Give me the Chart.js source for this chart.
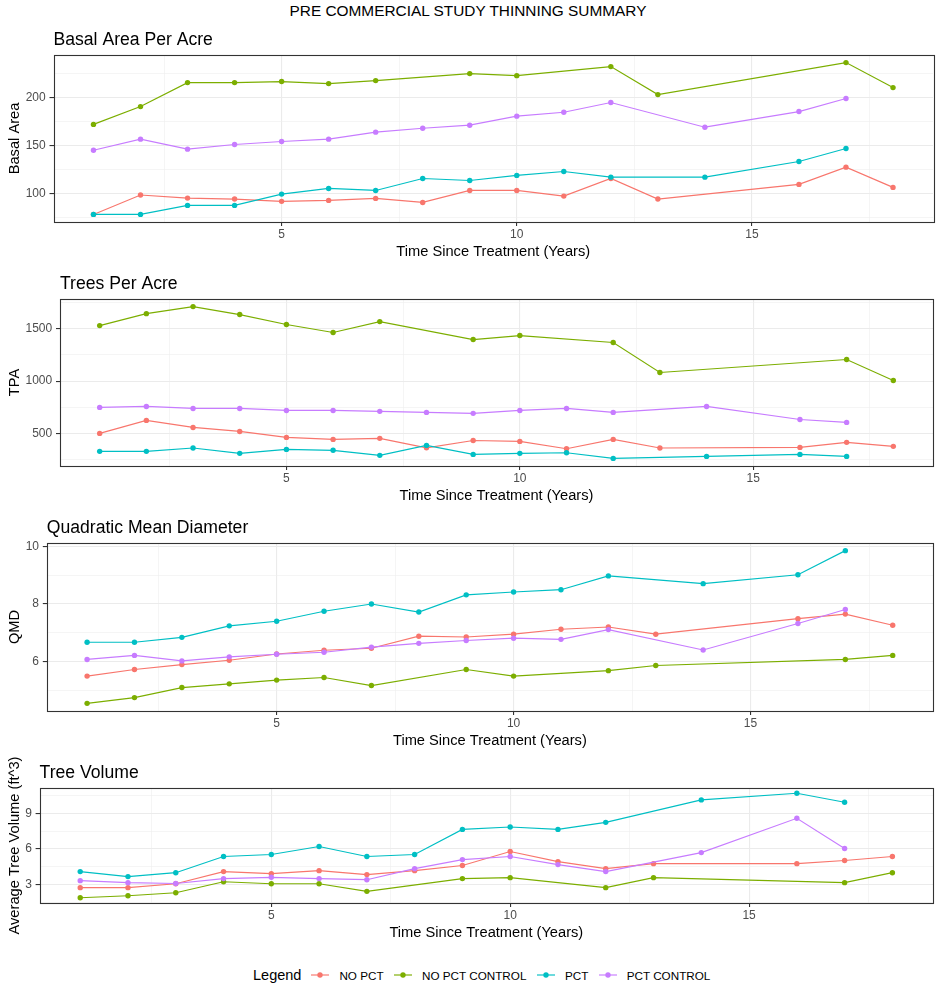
<!DOCTYPE html>
<html><head><meta charset="utf-8">
<script src="https://cdn.jsdelivr.net/npm/chart.js@4.4.1/dist/chart.umd.min.js"></script>
<style>
html,body{margin:0;padding:0;background:#fff;}
body{font-family:"Liberation Sans",Arial,sans-serif;}
#wrap{position:relative;width:936px;height:1000px;overflow:hidden;}
canvas{position:absolute;left:0;}
#mainTitle{position:absolute;left:0;width:936px;text-align:center;top:2px;font-size:15.4px;line-height:18px;color:#000;}
#legend{position:absolute;left:253px;top:966px;height:18px;display:flex;align-items:center;white-space:nowrap;}
#legend .lt{font-size:14.5px;color:#000;margin-right:10px;}
#legend .it{display:flex;align-items:center;margin-right:10.5px;font-size:11.7px;color:#000;}
#legend svg{margin-right:10px;}
</style>
</head><body>
<div id="wrap">
  <div id="mainTitle">PRE COMMERCIAL STUDY THINNING SUMMARY</div>
  <canvas id="c1"></canvas>
  <canvas id="c2"></canvas>
  <canvas id="c3"></canvas>
  <canvas id="c4"></canvas>
  <div id="legend"></div>
</div>
<script>
// ---------------- DATA ----------------
const seriesNames = ["NO PCT", "NO PCT CONTROL", "PCT", "PCT CONTROL"];
const seriesColors = ["#F8766D", "#7CAE00", "#00BFC4", "#C77CFF"];

// years observed for each series
const yearsNoPct        = [1,2,3,4,5,6,7,8,9,10,11,12,13,16,17,18];
const yearsNoPctControl = [1,2,3,4,5,6,7,9,10,12,13,17,18];
const yearsPct          = [1,2,3,4,5,6,7,8,9,10,11,12,14,16,17];
const yearsPctControl   = [1,2,3,4,5,6,7,8,9,10,11,12,14,16,17];

// Basal Area Per Acre
const baNoPct        = [78.1, 98.3, 95.1, 94.1, 91.7, 92.7, 94.8, 90.6, 103.1, 103.1, 97.2, 115.6, 94.1, 109.4, 127.4, 106.3];
const baNoPctControl = [172, 190.6, 215.6, 215.6, 216.7, 214.6, 217.7, 225, 222.9, 232.3, 203.1, 236.5, 210.4];
const baPct          = [78.1, 78.1, 87.5, 87.5, 99.3, 105.2, 103.1, 115.6, 113.5, 118.8, 122.9, 117, 117, 133.3, 146.9];
const baPctControl   = [145.1, 156.6, 146.2, 151, 154.2, 156.6, 163.9, 168, 171.2, 180.6, 184.7, 194.8, 169.1, 185.4, 199];

// Trees Per Acre
const tpaNoPct        = [502, 626, 559, 521, 464, 445, 455, 365, 435, 426, 356, 445, 363, 369, 417, 379];
const tpaNoPctControl = [1529, 1643, 1710, 1634, 1539, 1463, 1567, 1396, 1434, 1368, 1082, 1206, 1006];
const tpaPct          = [331, 331, 363, 312, 350, 341, 293, 388, 302, 312, 318, 264, 283, 302, 283];
const tpaPctControl   = [750, 759, 740, 740, 721, 721, 712, 702, 693, 721, 740, 702, 759, 635, 607];

// Quadratic Mean Diameter
const qmdNoPct        = [5.49, 5.72, 5.89, 6.04, 6.26, 6.39, 6.46, 6.88, 6.85, 6.95, 7.12, 7.20, 6.95, 7.49, 7.65, 7.26];
const qmdNoPctControl = [4.54, 4.74, 5.09, 5.22, 5.35, 5.44, 5.16, 5.72, 5.49, 5.68, 5.86, 6.07, 6.21];
const qmdPct          = [6.67, 6.67, 6.84, 7.24, 7.40, 7.75, 8.00, 7.72, 8.32, 8.42, 8.50, 8.98, 8.71, 9.02, 9.86];
const qmdPctControl   = [6.07, 6.21, 6.02, 6.16, 6.25, 6.32, 6.50, 6.63, 6.73, 6.81, 6.77, 7.11, 6.40, 7.32, 7.81];

// Average Tree Volume
const volNoPct        = [2.75, 2.75, 3.08, 4.10, 3.93, 4.18, 3.85, 4.18, 4.61, 5.79, 4.94, 4.35, 4.77, 4.77, 5.03, 5.37];
const volNoPctControl = [1.90, 2.07, 2.32, 3.25, 3.08, 3.08, 2.44, 3.51, 3.59, 2.75, 3.59, 3.17, 4.01];
const volPct          = [4.10, 3.68, 4.01, 5.37, 5.54, 6.21, 5.37, 5.54, 7.65, 7.85, 7.65, 8.24, 10.13, 10.69, 9.93];
const volPctControl   = [3.34, 3.17, 3.10, 3.51, 3.62, 3.51, 3.42, 4.35, 5.11, 5.37, 4.69, 4.10, 5.70, 8.58, 6.04];

// tick labels
const xMajorTicks = [5, 10, 15];
const xMinorTicks = [2.5, 7.5, 12.5, 17.5];
const baMajorTicks = [100, 150, 200];
const baMinorTicks = [75, 125, 175, 225];
const tpaMajorTicks = [500, 1000, 1500];
const tpaMinorTicks = [250, 750, 1250, 1750];
const qmdMajorTicks = [6, 8, 10];
const qmdMinorTicks = [5, 7, 9];
const volMajorTicks = [3, 6, 9];
const volMinorTicks = [1.5, 4.5, 7.5, 10.5];

// ---------------- LAYOUT / STYLE ----------------
const FONT = '"Liberation Sans", Arial, sans-serif';
Chart.defaults.font.family = FONT;
Chart.defaults.animation = false;

const seriesYears = [yearsNoPct, yearsNoPctControl, yearsPct, yearsPctControl];
const panels = [
  {id:'c1', title:'Basal Area Per Acre', ytitle:'Basal Area', values:[baNoPct, baNoPctControl, baPct, baPctControl], major:baMajorTicks, minor:baMinorTicks, boxL:53.5, boxT:55, boxB:222},
  {id:'c2', title:'Trees Per Acre', ytitle:'TPA', values:[tpaNoPct, tpaNoPctControl, tpaPct, tpaPctControl], major:tpaMajorTicks, minor:tpaMinorTicks, boxL:60, boxT:299.3, boxB:466},
  {id:'c3', title:'Quadratic Mean Diameter', ytitle:'QMD', values:[qmdNoPct, qmdNoPctControl, qmdPct, qmdPctControl], major:qmdMajorTicks, minor:qmdMinorTicks, boxL:46.8, boxT:543.3, boxB:711},
  {id:'c4', title:'Tree Volume', ytitle:'Average Tree Volume (ft^3)', values:[volNoPct, volNoPctControl, volPct, volPctControl], major:volMajorTicks, minor:volMinorTicks, boxL:39.6, boxT:788.3, boxB:903.3}
];
const BOX_R = 933;
const TOP_SPACE = 33;
const X_AXIS_H = 41;

const framePlugin = {
  id: 'frameAndTitle',
  afterDraw(chart, args, opts) {
    const {ctx, chartArea: a} = chart;
    ctx.save();
    ctx.strokeStyle = '#333333';
    ctx.lineWidth = 1.1;
    ctx.strokeRect(Math.round(a.left) + 0.5, Math.round(a.top) + 0.5, Math.round(a.right - a.left), Math.round(a.bottom - a.top));
    ctx.fillStyle = '#000';
    ctx.font = '17.6px ' + FONT;
    ctx.textBaseline = 'alphabetic';
    ctx.textAlign = 'left';
    ctx.fillText(opts.text, a.left, a.top - 10.5);
    ctx.restore();
  }
};

function expand(arrs) {
  let mn = Infinity, mx = -Infinity;
  arrs.forEach(a => a.forEach(v => { mn = Math.min(mn, v); mx = Math.max(mx, v); }));
  const p = (mx - mn) * 0.05;
  return [mn - p, mx + p];
}
function xRange() {
  let mn = Infinity, mx = -Infinity;
  seriesYears.forEach(a => a.forEach(v => { mn = Math.min(mn, v); mx = Math.max(mx, v); }));
  const p = (mx - mn) * 0.05;
  return [mn - p, mx + p];
}

function gridOpts(major) {
  return {
    color: ctx => major.includes(ctx.tick && ctx.tick.value) ? '#EBEBEB' : '#EFEFEF',
    lineWidth: ctx => major.includes(ctx.tick && ctx.tick.value) ? 1.1 : 0.6,
    tickColor: ctx => major.includes(ctx.tick && ctx.tick.value) ? '#333333' : 'rgba(0,0,0,0)',
    tickWidth: 1.1,
    tickLength: 4,
    drawTicks: true
  };
}

const [xMin, xMax] = xRange();

panels.forEach(p => {
  const cv = document.getElementById(p.id);
  const top = p.boxT - TOP_SPACE;
  const h = (p.boxB + X_AXIS_H) - top;
  cv.width = 936; cv.height = Math.round(h);
  cv.style.top = top + 'px';
  cv.style.width = '936px'; cv.style.height = Math.round(h) + 'px';
  const [yMin, yMax] = expand(p.values);
  const yTicksAll = p.major.concat(p.minor).filter(v => v >= yMin && v <= yMax).sort((a,b)=>a-b);
  const xTicksAll = xMajorTicks.concat(xMinorTicks).sort((a,b)=>a-b);
  const datasets = seriesNames.map((name, i) => ({
    label: name,
    data: seriesYears[i].map((yr, k) => ({x: yr, y: p.values[i][k]})),
    borderColor: seriesColors[i],
    backgroundColor: seriesColors[i],
    borderWidth: 1.15,
    pointRadius: 2.7,
    pointBorderWidth: 0,
    pointHoverRadius: 2.7,
    tension: 0,
    order: 3 - i
  }));
  new Chart(cv, {
    type: 'line',
    data: {datasets},
    plugins: [framePlugin],
    options: {
      responsive: false,
      devicePixelRatio: 1,
      layout: {padding: {top: TOP_SPACE, right: 936 - BOX_R, left: 0, bottom: 0}},
      plugins: {legend: {display: false}, tooltip: {enabled: false}, frameAndTitle: {text: p.title}},
      scales: {
        x: {
          type: 'linear', min: xMin, max: xMax,
          afterFit: s => { s.height = X_AXIS_H; },
          afterBuildTicks: s => { s.ticks = xTicksAll.map(v => ({value: v})); },
          border: {display: false},
          grid: gridOpts(xMajorTicks),
          ticks: {autoSkip: false, maxRotation: 0, padding: 1.5, color: '#4D4D4D', font: {size: 12},
                  callback: v => xMajorTicks.includes(v) ? String(v) : ''},
          title: {display: true, text: 'Time Since Treatment (Years)', color: '#000', font: {size: 14.67},
                  padding: {top: 0, bottom: X_AXIS_H - 29.7 - 14.67 * 0.6}}
        },
        y: {
          type: 'linear', min: yMin, max: yMax,
          afterFit: s => { s.width = p.boxL; },
          afterBuildTicks: s => { s.ticks = yTicksAll.map(v => ({value: v})); },
          border: {display: false},
          grid: gridOpts(p.major),
          ticks: {autoSkip: false, padding: 3.8, color: '#4D4D4D', font: {size: 12},
                  callback: v => p.major.includes(v) ? String(v) : ''},
          title: {display: true, text: p.ytitle, color: '#000', font: {size: 14.67},
                  padding: {top: 15 - 14.67 * 0.6, bottom: 0}}
        }
      }
    }
  });
});

// legend
const lg = document.getElementById('legend');
const lt = document.createElement('span'); lt.className = 'lt'; lt.textContent = 'Legend'; lg.appendChild(lt);
seriesNames.forEach((n, i) => {
  const it = document.createElement('span'); it.className = 'it';
  it.innerHTML = '<svg width="18" height="8" viewBox="0 0 18 8"><line x1="0" y1="4" x2="18" y2="4" stroke="' + seriesColors[i] + '" stroke-width="1.15"/><circle cx="9" cy="4" r="2.7" fill="' + seriesColors[i] + '"/></svg>';
  const t = document.createElement('span'); t.textContent = n; it.appendChild(t);
  lg.appendChild(it);
});
</script>
</body></html>
